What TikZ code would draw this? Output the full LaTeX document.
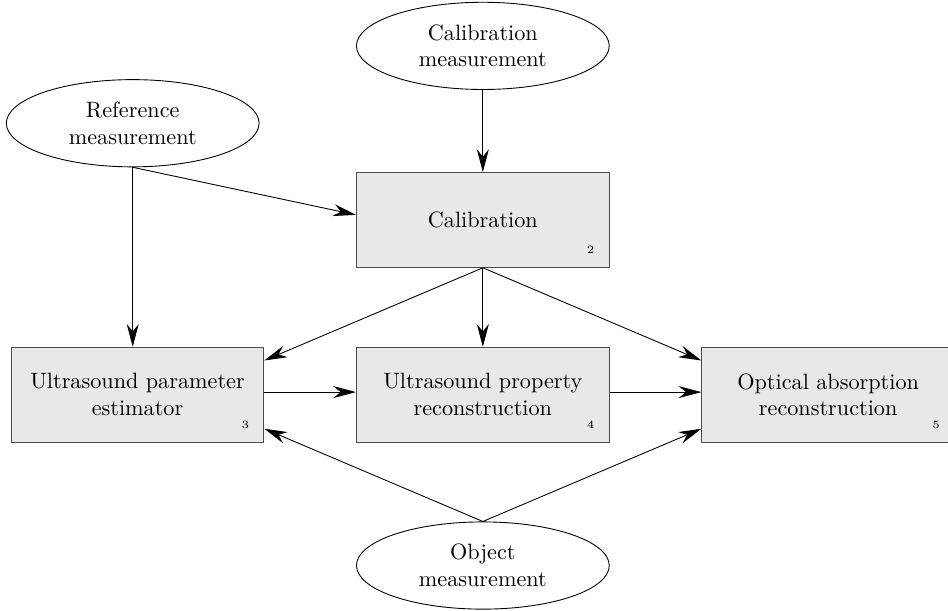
\documentclass[tikz,border=0pt]{standalone}
\usepackage{tikz}
\usetikzlibrary{shapes.geometric, arrows.meta, positioning}
\tikzstyle{meas} = [ellipse,
minimum width=4cm,
minimum height=1.38cm,
align=center,
draw=black]
\tikzstyle{block} = [rectangle,
minimum width=4cm,
minimum height=1.5cm,
align=center,
draw=black!70,
fill=black!9]
\tikzstyle{num} = [font=\tiny, inner sep=0pt]
\tikzstyle{arrow} = [-{Stealth[length=3.6mm, width=1.9mm]}]

\begin{document}
\begin{tikzpicture}[node distance=1.25cm and 1.45cm]
        \useasboundingbox (0,0) rectangle (15,-9.652);
        % Bloques
        \node (calib) [block] at (7.64,-3.48) {Calibration};
        \node (calibm) [meas, above=1.3cm of calib] {Calibration\\measurement};
        \node (refm) [meas] at (2.10,-1.95) {Reference\\measurement};
        \node (prop) [block, below=of calib] {Ultrasound property\\reconstruction};
        \node (est) [block, left=of prop] {Ultrasound parameter\\estimator};
        \node (opt) [block, right=of prop] {Optical absorption\\reconstruction};
        \node (objm) [meas, below=of prop] {Object\\measurement};

        % Numeros
        \node (n2) [num] at ([shift={(-0.3,0.28)}]calib.south east) {2};
        \node (n3) [num] at ([shift={(-0.3,0.28)}]est.south east) {3};
        \node (n4) [num] at ([shift={(-0.3,0.28)}]prop.south east) {4};
        \node (n5) [num] at ([shift={(-0.3,0.28)}]opt.south east) {5};

        % Conexiones
        \draw [arrow] (calibm) -- (calib);
        \draw [arrow] (refm.south) -- ([yshift=0.08cm]calib.west);
        \draw [arrow] (refm.south) -- (refm.south |- est.north);
        \draw [arrow] (calib.south) -- ([yshift=0.54cm]est.east);
        \draw [arrow] (calib.south) -- (prop.north);
        \draw [arrow] (calib.south) -- ([yshift=0.54cm]opt.west);
        \draw [arrow] ([yshift=0.04cm]est.east) -- ([yshift=0.04cm]prop.west);
        \draw [arrow] ([yshift=0.04cm]prop.east) -- ([yshift=0.04cm]opt.west);
        \draw [arrow] (objm.north) -- ([yshift=-0.54cm]est.east);
        \draw [arrow] (objm.north) -- ([yshift=-0.54cm]opt.west);

    \end{tikzpicture}
\end{document}
